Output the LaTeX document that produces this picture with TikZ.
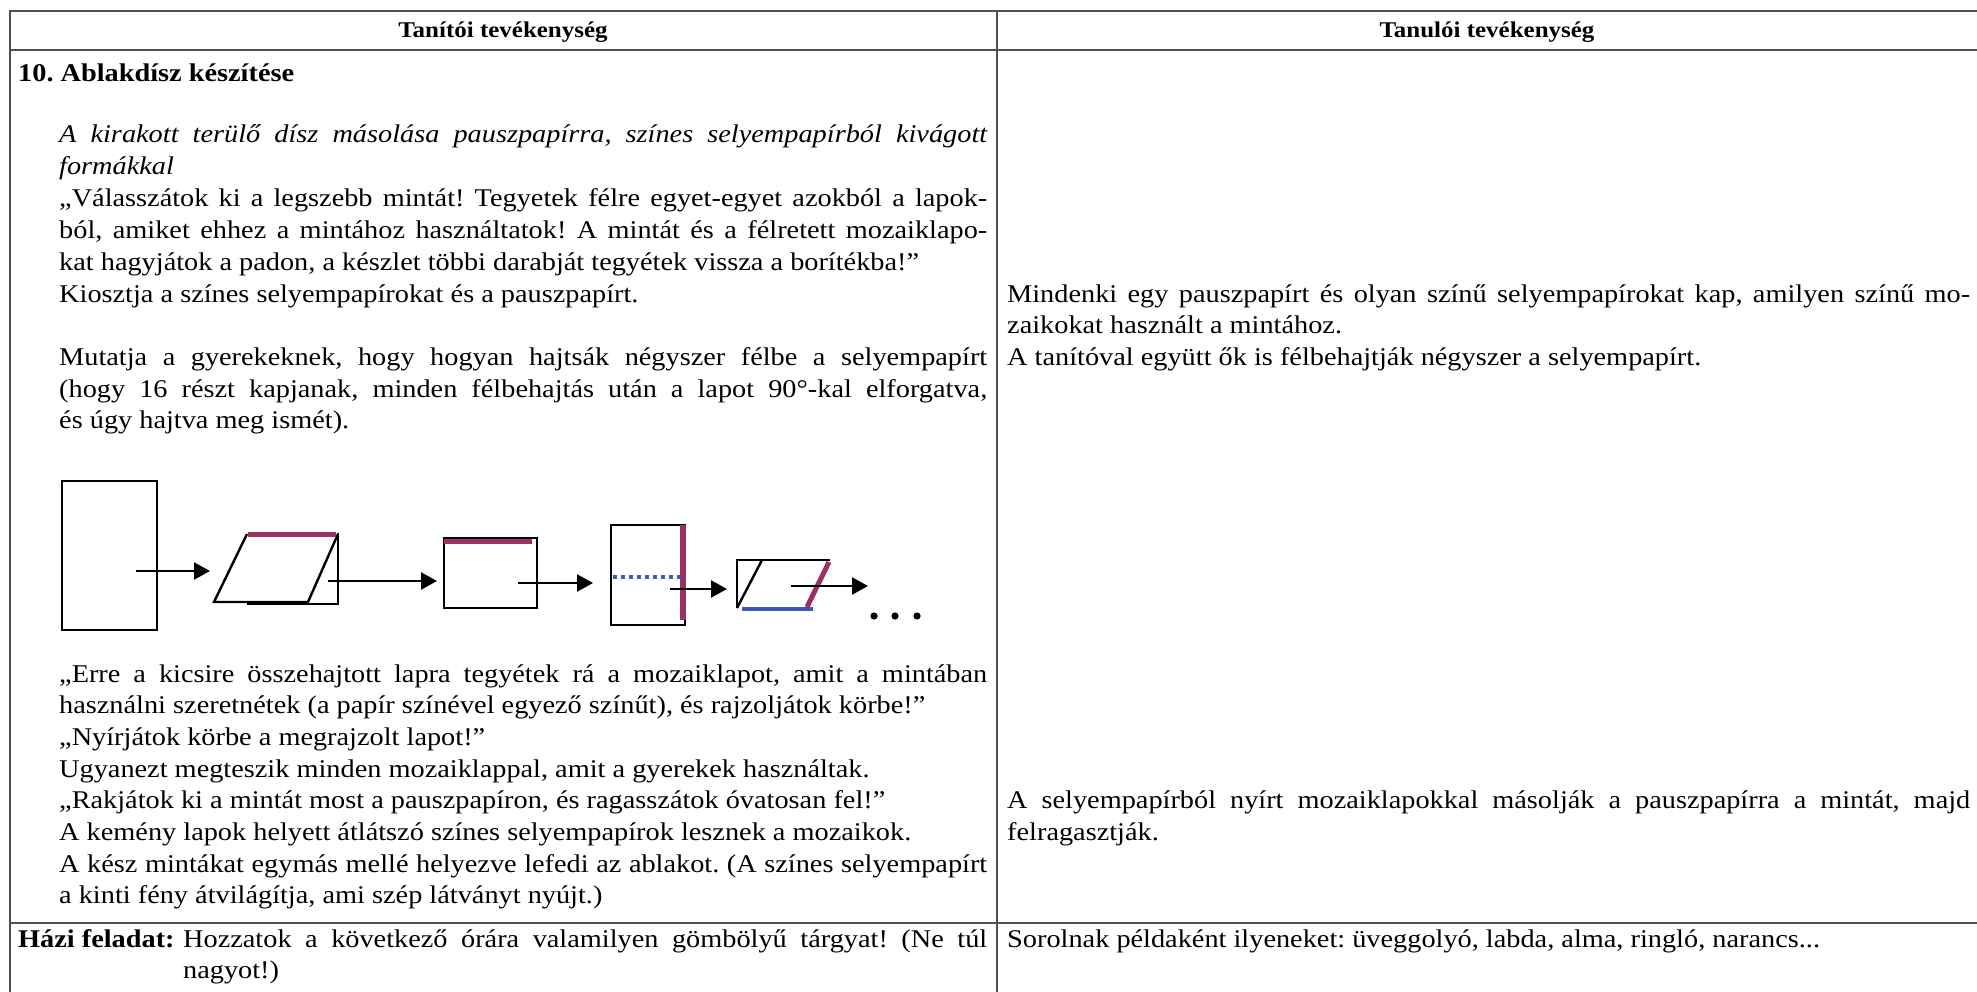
\documentclass[tikz,border=0pt]{standalone}
\usepackage{fontspec}
\setmainfont[FakeStretch=1.11]{Liberation Serif}
\usetikzlibrary{arrows.meta}
\definecolor{magcol}{RGB}{155,50,100}
\definecolor{bluecol}{RGB}{60,90,180}
\definecolor{rulecol}{RGB}{80,80,80}
\newcommand\myjust[2]{\makebox[#1][s]{#2}}
\frenchspacing
\tikzset{
  txt/.style={anchor=base west, inner sep=0pt, font=\fontsize{25.5}{31.7}\selectfont},
  hdr/.style={anchor=base, inner sep=0pt, font=\fontsize{22.5}{28}\selectfont\bfseries},
  tablerule/.style={draw=rulecol, line width=2pt},
  fig/.style={draw=black, line width=2.4pt, line join=miter},
  magbar/.style={draw=magcol, line width=5pt},
  bluebar/.style={draw=bluecol, line width=4pt},
  arr/.style={draw=black, line width=2.4pt, -{Triangle[length=16pt,width=17pt]}},
}
\begin{document}
\frenchspacing
\begin{tikzpicture}[x=1pt,y=-1pt]
\useasboundingbox (0,0) rectangle (1977,992);
% table rules
\draw[tablerule] (10,11) -- (1977,11);
\draw[tablerule] (10,50) -- (1977,50);
\draw[tablerule] (10,923) -- (1977,923);
\draw[tablerule] (10,10) -- (10,992);
\draw[tablerule] (997,10) -- (997,992);
% headers
\node[hdr] (h1) at (503,38) {Tanítói tevékenység};
\node[hdr] (h2) at (1487,38) {Tanulói tevékenység};
% left column
\node[txt,font=\fontsize{25.5}{31.7}\selectfont\bfseries] (title) at (18,82) {10. Ablakdísz készítése};
\node[txt] (l1) at (59,143) {\itshape\myjust{928pt}{A kirakott terülő dísz másolása pauszpapírra, színes selyempapírból kivágott}};
\node[txt] (l2) at (59,175) {\itshape formákkal};
\node[txt] (l3) at (59,207) {\myjust{928pt}{„Válasszátok ki a legszebb mintát! Tegyetek félre egyet-egyet azokból a lapok-}};
\node[txt] (l4) at (59,239) {\myjust{928pt}{ból, amiket ehhez a mintához használtatok! A mintát és a félretett mozaiklapo-}};
\node[txt] (l5) at (59,270) {kat hagyjátok a padon, a készlet többi darabját tegyétek vissza a borítékba!”};
\node[txt] (l6) at (59,302) {Kiosztja a színes selyempapírokat és a pauszpapírt.};
\node[txt] (l7) at (59,365) {\myjust{928pt}{Mutatja a gyerekeknek, hogy hogyan hajtsák négyszer félbe a selyempapírt}};
\node[txt] (l8) at (59,397) {\myjust{928pt}{(hogy 16 részt kapjanak, minden félbehajtás után a lapot 90°-kal elforgatva,}};
\node[txt] (l9) at (59,428) {és úgy hajtva meg ismét).};
\node[txt] (l10) at (59,682) {\myjust{928pt}{„Erre a kicsire összehajtott lapra tegyétek rá a mozaiklapot, amit a mintában}};
\node[txt] (l11) at (59,713) {használni szeretnétek (a papír színével egyező színűt), és rajzoljátok körbe!”};
\node[txt] (l12) at (59,745) {„Nyírjátok körbe a megrajzolt lapot!”};
\node[txt] (l13) at (59,777) {Ugyanezt megteszik minden mozaiklappal, amit a gyerekek használtak.};
\node[txt] (l14) at (59,808) {„Rakjátok ki a mintát most a pauszpapíron, és ragasszátok óvatosan fel!”};
\node[txt] (l15) at (59,840) {A kemény lapok helyett átlátszó színes selyempapírok lesznek a mozaikok.};
\node[txt] (l16) at (59,872) {\myjust{928pt}{A kész mintákat egymás mellé helyezve lefedi az ablakot. (A színes selyempapírt}};
\node[txt] (l17) at (59,903) {a kinti fény átvilágítja, ami szép látványt nyújt.)};
% homework row
\node[txt,font=\fontsize{25.5}{31.7}\selectfont\bfseries] (hf) at (18,947) {Házi feladat:};
\node[txt] (hw1) at (183,947) {\myjust{804pt}{Hozzatok a következő órára valamilyen gömbölyű tárgyat! (Ne túl}};
\node[txt] (hw2) at (183,978) {nagyot!)};
% right column
\node[txt] (r1) at (1007,302) {\myjust{963pt}{Mindenki egy pauszpapírt és olyan színű selyempapírokat kap, amilyen színű mo-}};
\node[txt] (r2) at (1007,333) {zaikokat használt a mintához.};
\node[txt] (r3) at (1007,365) {A tanítóval együtt ők is félbehajtják négyszer a selyempapírt.};
\node[txt] (r4) at (1007,808) {\myjust{963pt}{A selyempapírból nyírt mozaiklapokkal másolják a pauszpapírra a mintát, majd}};
\node[txt] (r5) at (1007,840) {felragasztják.};
\node[txt] (r6) at (1007,947) {Sorolnak példaként ilyeneket: üveggolyó, labda, alma, ringló, narancs...};
% folding figure
\draw[fig] (62,481) rectangle (157,630);
\draw[fig] (247,604) -- (338,604) -- (338,533);
\draw[fig] (247,534) -- (214,602) -- (308,602) -- (338,534);
\draw[magbar] (248,534) -- (336,534);
\draw[fig] (444,538) rectangle (537,608);
\draw[magbar] (444,541) -- (532,541);
\draw[fig] (611,525) rectangle (685,625);
\draw[draw=magcol, line width=6pt] (683,525) -- (683,620);
\draw[draw=bluecol, line width=4pt, dash pattern=on 4pt off 4pt] (613,577) -- (681,577);
\draw[fig] (737,608) -- (737,560) -- (830,560);
\draw[fig] (762,560) -- (737,608);
\draw[bluebar] (742,609) -- (813,609);
\draw[magbar] (829,562) -- (807,607);
\coordinate (a1s) at (136,571); \coordinate (a1e) at (210,571);
\coordinate (a2s) at (328,581); \coordinate (a2e) at (437,581);
\coordinate (a3s) at (518,583); \coordinate (a3e) at (593,583);
\coordinate (a4s) at (670,589); \coordinate (a4e) at (727,589);
\coordinate (a5s) at (791,586); \coordinate (a5e) at (868,586);
\draw[arr] (a1s) -- (a1e);
\draw[arr] (a2s) -- (a2e);
\draw[arr] (a3s) -- (a3e);
\draw[arr] (a4s) -- (a4e);
\draw[arr] (a5s) -- (a5e);
\fill (874,616) circle (3.6);
\fill (895,616) circle (3.6);
\fill (917,616) circle (3.6);
\end{tikzpicture}
\end{document}
